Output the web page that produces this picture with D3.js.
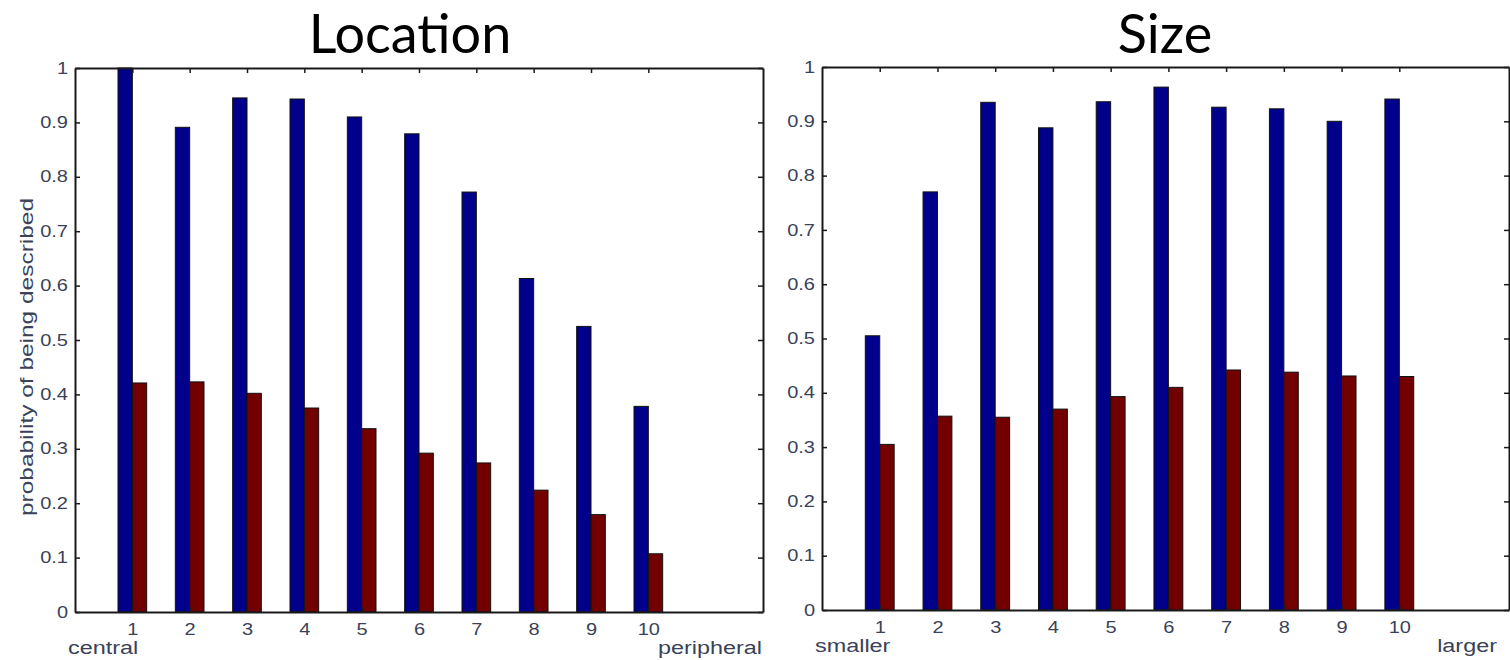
<!DOCTYPE html>
<html>
<head>
<meta charset="utf-8">
<script src="https://cdn.jsdelivr.net/npm/d3@7"></script>
<style>
  html, body { margin: 0; padding: 0; background: #fff; }
  svg { display: block; }
</style>
</head>
<body>
<svg id="chart" width="1510" height="660"></svg>
<script>
// ---- data ----
const categories = [1, 2, 3, 4, 5, 6, 7, 8, 9, 10];
const yTickValues = [0, 0.1, 0.2, 0.3, 0.4, 0.5, 0.6, 0.7, 0.8, 0.9, 1];
const yTickLabels = ["0", "0.1", "0.2", "0.3", "0.4", "0.5", "0.6", "0.7", "0.8", "0.9", "1"];

const locationBlue = [1.0, 0.891, 0.945, 0.943, 0.910, 0.879, 0.772, 0.613, 0.525, 0.378];
const locationRed  = [0.421, 0.423, 0.402, 0.375, 0.337, 0.292, 0.274, 0.224, 0.179, 0.107];
const sizeBlue     = [0.505, 0.770, 0.935, 0.888, 0.936, 0.963, 0.926, 0.923, 0.900, 0.941];
const sizeRed      = [0.305, 0.357, 0.355, 0.370, 0.393, 0.410, 0.442, 0.438, 0.431, 0.430];

const panelTitles = ["Location", "Size"];
const leftEndLabels = ["central", "smaller"];
const rightEndLabels = ["peripheral", "larger"];
const yAxisTitle = "probability of being described";

// ---- layout ----
const svg = d3.select("#chart");
const BLUE = "#00008a", RED = "#730000";
const TICK_FONT = "'Liberation Sans', Arial, Helvetica, sans-serif";
const TICK_COLOR = "#3a4258";

const panels = [
  { title: panelTitles[0], blue: locationBlue, red: locationRed, left: leftEndLabels[0], right: rightEndLabels[0],
    x0: 75, x1: 763, xmax: 12, yTop: 68, yBot: 612, titleX: 410, ylabel: true },
  { title: panelTitles[1], blue: sizeBlue, red: sizeRed, left: leftEndLabels[1], right: rightEndLabels[1],
    x0: 822, x1: 1509, xmax: 11.9, yTop: 67, yBot: 610, titleX: 1165, ylabel: false }
];

function stretch(sel, f) {
  sel.each(function () {
    const l = this.getComputedTextLength();
    this.setAttribute("textLength", l * f);
    this.setAttribute("lengthAdjust", "spacingAndGlyphs");
  });
}

panels.forEach(p => {
  const x = d3.scaleLinear().domain([0, p.xmax]).range([p.x0, p.x1]);
  const y = d3.scaleLinear().domain([0, 1]).range([p.yBot, p.yTop]);
  const barW = 0.25;
  const g = svg.append("g");

  // bars
  const series = [
    { values: p.blue, color: BLUE, off: -barW },
    { values: p.red, color: RED, off: 0 }
  ];
  series.forEach(s => {
    g.append("g").selectAll("rect").data(categories).join("rect")
      .attr("x", (c) => x(c + s.off))
      .attr("width", (c) => x(c + s.off + barW) - x(c + s.off))
      .attr("y", (c, i) => y(s.values[i]))
      .attr("height", (c, i) => y(0) - y(s.values[i]))
      .attr("fill", s.color)
      .attr("stroke", "#111")
      .attr("stroke-width", 1);
  });

  // axes
  const yLeft = d3.axisLeft(y).tickValues(yTickValues)
    .tickFormat((d, i) => yTickLabels[i]).tickSizeInner(-5).tickSizeOuter(0).tickPadding(7);
  const yRight = d3.axisRight(y).tickValues(yTickValues)
    .tickFormat("").tickSizeInner(-5).tickSizeOuter(0);
  const xBottom = d3.axisBottom(x).tickValues(categories)
    .tickFormat(d3.format("d")).tickSizeInner(-5).tickSizeOuter(0).tickPadding(12);
  const xTop = d3.axisTop(x).tickValues(categories)
    .tickFormat("").tickSizeInner(-5).tickSizeOuter(0);

  const axes = [
    g.append("g").attr("transform", `translate(${p.x0},0)`).call(yLeft),
    g.append("g").attr("transform", `translate(${p.x1},0)`).call(yRight),
    g.append("g").attr("transform", `translate(0,${p.yBot})`).call(xBottom),
    g.append("g").attr("transform", `translate(0,${p.yTop})`).call(xTop)
  ];
  axes.forEach(a => {
    a.select(".domain").attr("stroke", "#1a1a1a").attr("stroke-width", 2);
    a.selectAll(".tick line").attr("stroke", "#1a1a1a").attr("stroke-width", 1.5);
    a.selectAll("text").attr("font-family", TICK_FONT).attr("font-size", 16).attr("fill", TICK_COLOR);
  });
  stretch(axes[0].selectAll("text"), 1.25);
  stretch(axes[2].selectAll("text"), 1.25);

  // end labels
  const lt = g.append("text").attr("x", p.x0 - 7).attr("y", p.yBot + 42)
    .attr("font-family", TICK_FONT).attr("font-size", 18).attr("fill", TICK_COLOR)
    .text(p.left);
  const rt = g.append("text").attr("x", p.x1 - (p.ylabel ? 1 : 12)).attr("y", p.yBot + 42)
    .attr("text-anchor", "end")
    .attr("font-family", TICK_FONT).attr("font-size", 18).attr("fill", TICK_COLOR)
    .text(p.right);
  stretch(lt, 1.3);
  stretch(rt, 1.3);

  // title
  g.append("text").attr("x", p.titleX).attr("y", 53).attr("text-anchor", "middle")
    .attr("font-family", "Lato, 'Open Sans', sans-serif").attr("font-size", 54).attr("fill", "#000")
    .text(p.title);

  if (p.ylabel) {
    const yl = g.append("text")
      .attr("transform", `translate(33,${(p.yTop + p.yBot) / 2 + 17}) rotate(-90)`)
      .attr("text-anchor", "middle")
      .attr("font-family", TICK_FONT).attr("font-size", 19).attr("fill", TICK_COLOR)
      .text(yAxisTitle);
    yl.attr("textLength", 318).attr("lengthAdjust", "spacingAndGlyphs");
  }
});
</script>
</body>
</html>
